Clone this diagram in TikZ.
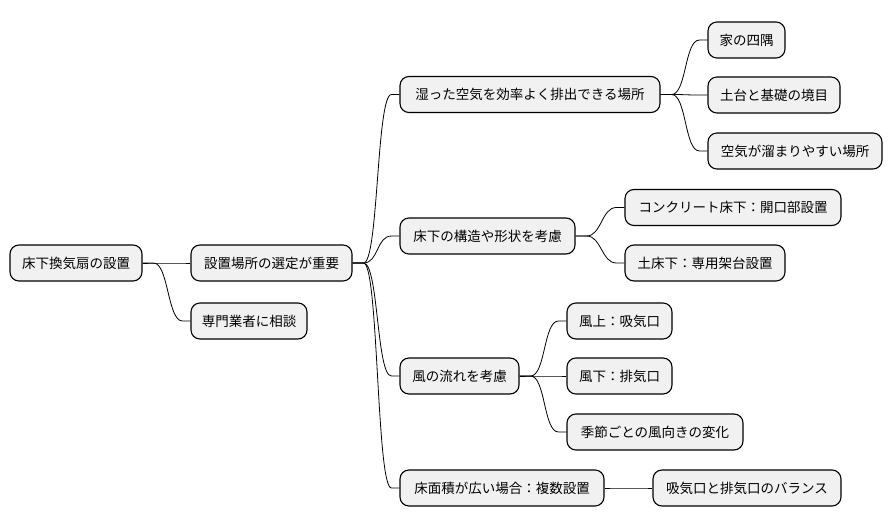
\documentclass[tikz,border=0pt]{standalone}
\usepackage{fontspec}
\setmainfont{Noto Sans CJK JP}
\usepackage{tikz}
\usetikzlibrary{shapes,arrows}
\definecolor{boxgray}{HTML}{F1F1F1}
\tikzstyle{topic}=[draw, line width=1.1pt, fill=boxgray, rounded corners=9pt, minimum height=36pt, inner xsep=0pt, font=\fontsize{13.5}{16}\selectfont]
\tikzstyle{branch}=[draw, line width=0.8pt, to path={-- ++(11pt,0) .. controls +(15pt,0) and +(-15pt,0) .. ([xshift=-8pt]\tikztotarget) -- (\tikztotarget)}]

\begin{document}
\begin{tikzpicture}
 	\useasboundingbox (0pt,0pt) rectangle (894pt,-527pt);
 	% level 0 and 1
 	\node[topic, minimum width=132pt] (root) at (76pt,-263pt) {床下換気扇の設置};
 	\node[topic, minimum width=161pt] (select) at (271.5pt,-263pt) {設置場所の選定が重要};
 	\node[topic, minimum width=116pt] (expert) at (249pt,-321pt) {専門業者に相談};
 	% level 2
 	\node[topic, minimum width=260pt] (humid) at (530pt,-94.5pt) {湿った空気を効率よく排出できる場所};
 	\node[topic, minimum width=175pt] (struct) at (487.5pt,-236pt) {床下の構造や形状を考慮};
 	\node[topic, minimum width=119pt] (wind) at (459.5pt,-376pt) {風の流れを考慮};
 	\node[topic, minimum width=204pt] (wide) at (502pt,-488pt) {床面積が広い場合：複数設置};
 	% level 3
 	\node[topic, minimum width=77pt] (corner) at (746.5pt,-40pt) {家の四隅};
 	\node[topic, minimum width=132pt] (border) at (774pt,-95pt) {土台と基礎の境目};
 	\node[topic, minimum width=174pt] (stagnant) at (795pt,-151pt) {空気が溜まりやすい場所};
 	\node[topic, minimum width=216pt] (concrete) at (733pt,-207.5pt) {コンクリート床下：開口部設置};
 	\node[topic, minimum width=160pt] (soil) at (705pt,-263pt) {土床下：専用架台設置};
 	\node[topic, minimum width=105pt] (upwind) at (619.5pt,-321pt) {風上：吸気口};
 	\node[topic, minimum width=105pt] (downwind) at (619.5pt,-376pt) {風下：排気口};
 	\node[topic, minimum width=176pt] (season) at (655pt,-432pt) {季節ごとの風向きの変化};
 	\node[topic, minimum width=188pt] (balance) at (747pt,-488pt) {吸気口と排気口のバランス};
 	% connectors
 	\path[branch] (root.east) to (select.west);
 	\path[branch] (root.east) to (expert.west);
 	\path[branch] (select.east) to (humid.west);
 	\path[branch] (select.east) to (struct.west);
 	\path[branch] (select.east) to (wind.west);
 	\path[branch] (select.east) to (wide.west);
 	\path[branch] (humid.east) to (corner.west);
 	\path[branch] (humid.east) to (border.west);
 	\path[branch] (humid.east) to (stagnant.west);
 	\path[branch] (struct.east) to (concrete.west);
 	\path[branch] (struct.east) to (soil.west);
 	\path[branch] (wind.east) to (upwind.west);
 	\path[branch] (wind.east) to (downwind.west);
 	\path[branch] (wind.east) to (season.west);
 	\path[branch] (wide.east) to (balance.west);
\end{tikzpicture}
\end{document}
